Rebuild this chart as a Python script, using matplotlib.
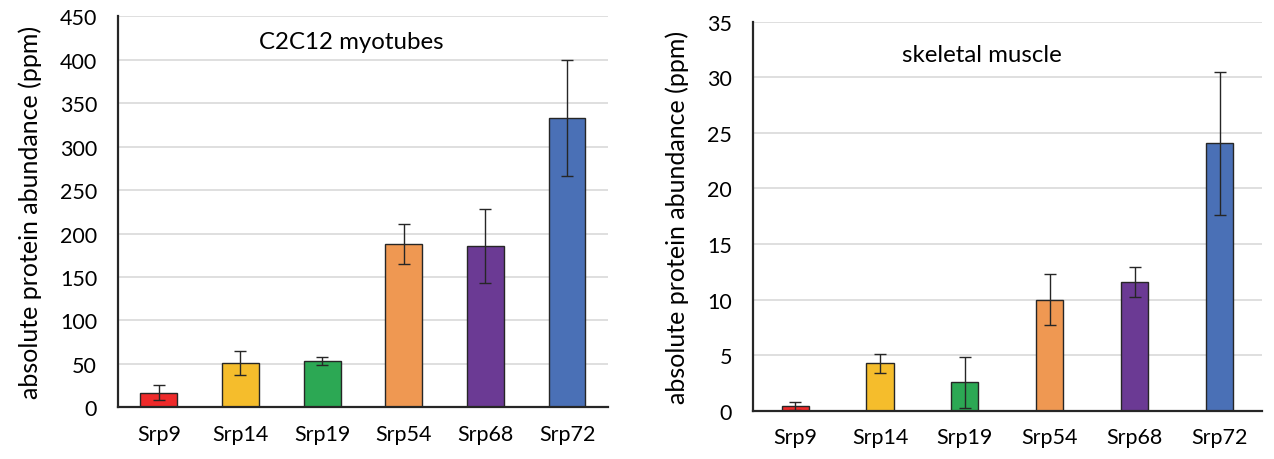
import matplotlib.pyplot as plt
import numpy as np

# proteins and values (ppm)
proteins = ["Srp9", "Srp14", "Srp19", "Srp54", "Srp68", "Srp72"]
myotube_mean = [17, 51, 53, 188, 186, 333]
myotube_err = [8.6, 13.3, 4.8, 23, 42.5, 67]
muscle_mean = [0.4, 4.25, 2.55, 10.0, 11.6, 24.05]
muscle_err = [0.35, 0.83, 2.3, 2.26, 1.35, 6.45]

colors = ["#EE2A2A", "#F5BD2C", "#2CA854", "#EF9852", "#6B3A94", "#4A70B6"]

plt.rcParams["font.family"] = ["Lato", "DejaVu Sans"]

fig = plt.figure(figsize=(12.74, 4.6), dpi=100)
ax1 = fig.add_axes([0.0926, 0.1124, 0.3846, 0.85])
ax2 = fig.add_axes([0.5908, 0.105, 0.3998, 0.8457])


def draw(ax, means, errs, width, ymax, step, title, title_xy):
    x = np.arange(len(proteins))
    ax.bar(x, means, width=width, color=colors, edgecolor="#262626", linewidth=1.0, zorder=2)
    ax.errorbar(x, means, yerr=errs, fmt="none", ecolor="#262626", elinewidth=1.0,
                capsize=4.5, capthick=1.0, zorder=3)
    ax.set_xlim(-0.5, len(proteins) - 0.5)
    ax.set_ylim(0, ymax)
    ax.set_yticks(np.arange(0, ymax + step / 2, step))
    ax.set_xticks(x)
    ax.set_xticklabels(proteins)
    ax.yaxis.grid(True, color="#d9d9d9", linewidth=1.2, zorder=0)
    ax.set_axisbelow(True)
    for s in ["top", "right"]:
        ax.spines[s].set_visible(False)
    ax.spines["left"].set_linewidth(1.6)
    ax.spines["bottom"].set_linewidth(1.6)
    ax.spines["left"].set_color("#262626")
    ax.spines["bottom"].set_color("#262626")
    ax.tick_params(length=0, labelsize=15.5)
    ax.tick_params(axis="y", pad=15)
    ax.tick_params(axis="x", pad=12)
    ax.set_ylabel("absolute protein abundance (ppm)", fontsize=18, labelpad=13)
    ax.text(title_xy[0], title_xy[1], title, transform=ax.transAxes,
            fontsize=17.3, ha="center", va="center")


draw(ax1, myotube_mean, myotube_err, 0.45, 450, 50, "C2C12 myotubes", (0.477, 0.935))
draw(ax2, muscle_mean, muscle_err, 0.32, 35, 5, "skeletal muscle", (0.45, 0.915))

fig.savefig("out.png", dpi=100)
